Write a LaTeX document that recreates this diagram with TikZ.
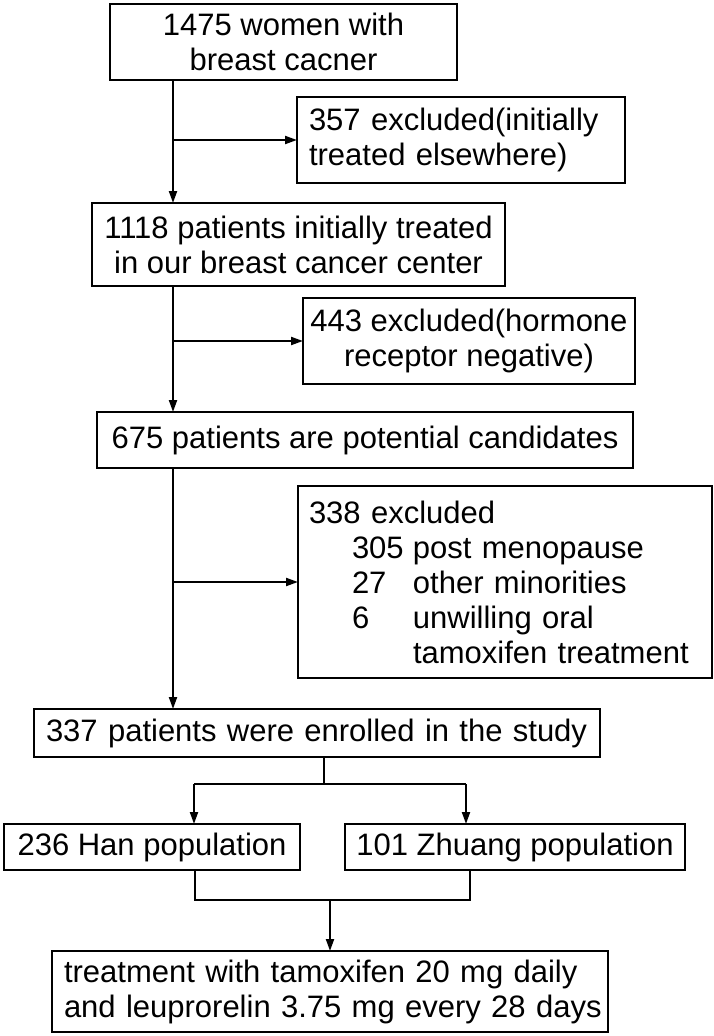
\documentclass[tikz,border=0pt]{standalone}
\usepackage{fontspec}
\setmainfont{Liberation Sans}
\usetikzlibrary{arrows.meta}
\begin{document}
\begin{tikzpicture}[x=1pt,y=-1pt,
  box/.style={draw=black,line width=2.6pt,inner sep=0pt,outer sep=0pt,
    font=\fontsize{31}{35}\selectfont,anchor=center},
  conn/.style={line width=2pt,-{Triangle[length=12pt,width=8pt]}},
  plain/.style={line width=2pt}]
\useasboundingbox (0,0) rectangle (714,1036);
\fill[white] (0,0) rectangle (714,1036);
\node[box,minimum width=347pt,minimum height=76pt,align=center] (b1) at (283.5,42)
  {1475 women with\\breast cacner};
\node[box,minimum width=328pt,minimum height=86pt,align=left,text width=304pt] (b2) at (461,140)
  {\mbox{357 excluded(initially}\\\mbox{treated elsewhere)}};
\node[box,minimum width=413pt,minimum height=83pt,align=center] (b3) at (298.5,244.5)
  {1118 patients initially treated\\in our breast cancer center};
\node[box,minimum width=332pt,minimum height=86pt,align=center] (b4) at (469,341)
  {443 excluded(hormone\\receptor negative)};
\node[box,minimum width=536pt,minimum height=56pt] (b5) at (365,440)
  {675 patients are potential candidates};
\node[box,minimum width=414pt,minimum height=192pt,align=left,text width=392pt] (b6) at (505,582)
  {338 excluded\\
   \hspace*{43pt}\makebox[61pt][l]{305}post menopause\\
   \hspace*{43pt}\makebox[61pt][l]{27}other minorities\\
   \hspace*{43pt}\makebox[61pt][l]{6}unwilling oral\\
   \hspace*{43pt}\makebox[61pt][l]{}tamoxifen treatment};
\node[box,minimum width=566pt,minimum height=48pt,align=left,text width=542pt] (b7) at (317,733)
  {\mbox{337 patients were enrolled in the study}};
\node[box,minimum width=296pt,minimum height=46pt] (han) at (152,847)
  {236 Han population};
\node[box,minimum width=340pt,minimum height=46pt] (zh) at (515,847)
  {101 Zhuang population};
\node[box,minimum width=556pt,minimum height=81pt,align=left,text width=532pt] (b8) at (330,991.5)
  {\mbox{treatment with tamoxifen 20 mg daily}\\\mbox{and leuprorelin 3.75 mg every 28 days}};
% trunk
\coordinate (t) at (173,0);
\draw[conn] (b1.south -| t) -- (b3.north -| t);
\draw[conn] (t |- b2.west) -- (b2.west);
\draw[conn] (b3.south -| t) -- (b5.north -| t);
\draw[conn] (t |- b4.west) -- (b4.west);
\draw[conn] (b5.south -| t) -- (b7.north -| t);
\draw[conn] (t |- b6.west) -- (b6.west);
% split
\coordinate (s) at (324,784);
\coordinate (sl) at (194,784);
\coordinate (sr) at (466,784);
\draw[plain] (b7.south -| s) -- (s);
\draw[plain] (sl) -- (sr);
\draw[conn] (sl) -- (han.north -| sl);
\draw[conn] (sr) -- (zh.north -| sr);
% merge
\coordinate (ml) at (195,900);
\coordinate (mr) at (470,900);
\coordinate (m) at (330,900);
\draw[plain] (han.south -| ml) -- (ml) -- (mr) -- (zh.south -| mr);
\draw[conn] (m) -- (b8.north -| m);
\end{tikzpicture}
\end{document}
